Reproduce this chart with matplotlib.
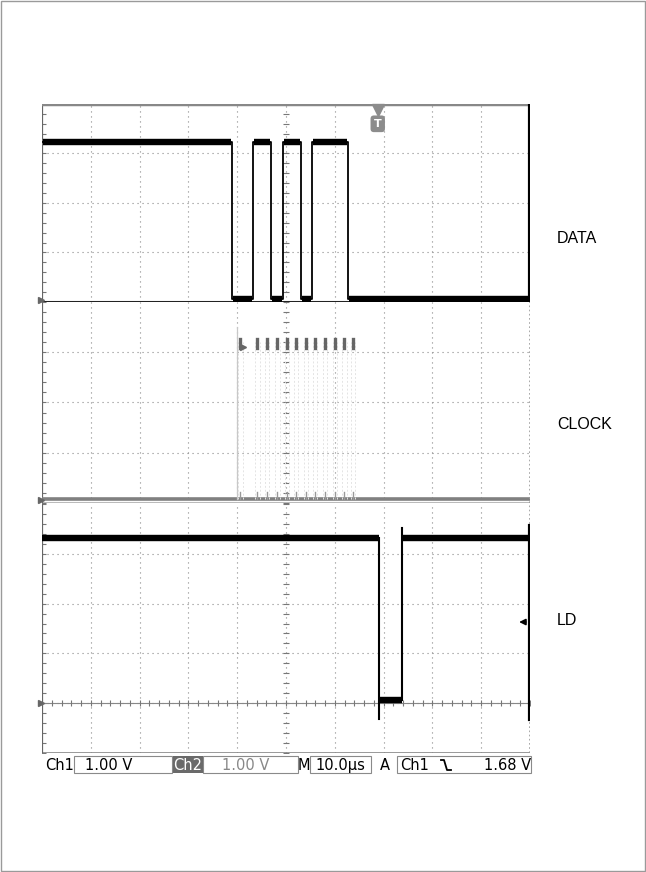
import matplotlib.pyplot as plt
from matplotlib.patches import Rectangle

# oscilloscope capture, values in divisions
x_div = 10

data_edges = [3.89, 4.32, 4.69, 4.94, 5.31, 5.53, 6.27]
data_hi, data_lo = 3.23, 0.07

clock_pulses = [4.06, 4.41, 4.61, 4.82, 5.02, 5.20, 5.41, 5.59, 5.80, 6.00, 6.19, 6.37]
clock_hi, clock_lo = 3.2, 0.07

ld_edges = [6.91, 7.38]
ld_hi, ld_lo = 4.32, 1.06
ld_undershoot = 0.68
ld_overshoot = 4.52

labels = ['DATA', 'CLOCK', 'LD']
status = ['Ch1', '1.00 V', 'Ch2', '1.00 V', 'M', '10.0µs', 'A', 'Ch1', '1.68 V']

W, H = 646, 872
fig = plt.figure(figsize=(W / 100, H / 100), dpi=100)

# panels: (top px, bottom px, n divisions)
panels = [(104, 302, 4), (302, 503, 4), (504, 753, 5)]
axes = []
for top, bot, nd in panels:
    ax = fig.add_axes([42 / W, 1 - bot / H, 488 / W, (bot - top) / H])
    ax.set_xlim(0, x_div)
    ax.set_ylim(0, nd)
    ax.set_xticks([])
    ax.set_yticks([])
    for s in ax.spines.values():
        s.set_visible(False)
    # graticule
    for i in range(1, x_div):
        ax.axvline(i, color='#8a8a8a', lw=0.8, ls=(0, (1, 3.5)), zorder=1)
    for j in range(1, nd):
        ax.axhline(j, color='#8a8a8a', lw=0.8, ls=(0, (1, 3.5)), zorder=1)
    # center axis ticks
    ticks = [k * 0.2 for k in range(nd * 5 + 1)]
    ax.plot([5] * len(ticks), ticks, ls='none', marker='_', ms=4, color='#777', mew=0.8, zorder=1)
    ax.plot([0.03] * len(ticks), ticks, ls='none', marker='_', ms=4, color='#777', mew=0.8, zorder=1)
    ax.axvline(0, color='#666', lw=1.6, zorder=2)
    axes.append(ax)

ax1, ax2, ax3 = axes

# DATA
t = [0] + data_edges + [x_div]
lv = [data_hi if k % 2 == 0 else data_lo for k in range(len(t))]
ax1.step(t, lv, where='post', color='k', lw=1.3, zorder=3)
for k in range(len(t) - 1):
    ax1.plot([t[k] + 0.02, t[k + 1] - 0.02], [lv[k], lv[k]], color='k', lw=4.6,
             solid_capstyle='butt', zorder=3)
ax1.axhline(0.0, color='#222', lw=2.2, zorder=2)
ax1.axhline(4, color='#888', lw=2.5, zorder=2)
ax1.axvline(x_div, color='k', lw=3, zorder=3)
# trigger marker
ax1.plot([6.88], [3.87], marker='v', ms=8, color='#8c8c8c', zorder=4, clip_on=False)
ax1.text(6.88, 3.6, 'T', ha='center', va='center', color='white', fontsize=8, fontweight='bold',
         bbox=dict(boxstyle='round,pad=0.3', fc='#8c8c8c', ec='none'), zorder=4)
ax1.plot([-0.03], [0.05], marker='>', ms=4, color='#666', clip_on=False)

# CLOCK
ax2.plot([0, x_div], [clock_lo, clock_lo], color='#808080', lw=2.6, zorder=2)
for p in clock_pulses:
    ax2.vlines([p - 0.04, p + 0.05], clock_lo, clock_hi, color='#e4e4e4', lw=0.7,
               linestyles=(0, (2, 2)), zorder=2)
    ax2.plot([p, p], [clock_hi - 0.12, clock_hi + 0.06], color='#666', lw=2.4, zorder=3)
    ax2.plot([p, p], [clock_lo, clock_lo + 0.15], color='#999', lw=1.0, zorder=3)
ax2.plot([clock_pulses[0] - 0.06] * 2, [clock_lo, clock_hi + 0.3], color='#c8c8c8', lw=0.9, zorder=2)
ax2.plot([clock_pulses[0] + 0.05], [clock_hi - 0.1], marker='>', ms=4, color='#666', zorder=3)
ax2.axhline(0.0, color='#bbb', lw=1.5, zorder=1)
ax2.axvline(x_div, color='#999', lw=1.2, ls=(0, (1, 1.5)), zorder=2)
ax2.plot([-0.03], [0.05], marker='>', ms=4, color='#666', clip_on=False)

# LD
ax3.axhline(1, color='#888', lw=0.8, zorder=1)
ticks = [k * 0.2 for k in range(x_div * 5 + 1)]
ax3.plot(ticks, [1] * len(ticks), ls='none', marker='|', ms=4, color='#777', mew=0.8, zorder=1)
ax3.plot([ld_edges[0], ld_edges[0]], [ld_hi, ld_undershoot], color='k', lw=1.5, zorder=3)
ax3.plot([ld_edges[1], ld_edges[1]], [ld_lo, ld_overshoot], color='k', lw=1.5, zorder=3)
ax3.plot([0, ld_edges[0]], [ld_hi, ld_hi], color='k', lw=4.6, solid_capstyle='butt', zorder=3)
ax3.plot([ld_edges[0], ld_edges[1]], [ld_lo, ld_lo], color='k', lw=4.6, solid_capstyle='butt', zorder=3)
ax3.plot([ld_edges[1], x_div], [ld_hi, ld_hi], color='k', lw=4.6, solid_capstyle='butt', zorder=3)
ax3.axvline(x_div, color='#999', lw=1.2, ls=(0, (1, 1.5)), zorder=2)
ax3.plot([x_div, x_div], [0.68, 4.55], color='k', lw=3, zorder=3)
ax3.annotate('', xy=(9.72, 2.63), xytext=(9.97, 2.63),
             arrowprops=dict(arrowstyle='-|>', color='k', lw=1.2, mutation_scale=9))
ax3.plot([-0.03], [1], marker='>', ms=4, color='#666', clip_on=False)
ax3.axhline(0.0, color='#888', lw=1.2, zorder=1)

# overlay in pixel coords
ov = fig.add_axes([0, 0, 1, 1])
ov.set_xlim(0, W)
ov.set_ylim(H, 0)
ov.axis('off')
ov.patch.set_visible(False)
ov.add_patch(Rectangle((1, 1), W - 2, H - 2, fill=False, ec='#9a9a9a', lw=1))

for lab, y in zip(labels, [238, 424, 620]):
    ov.text(557, y, lab, ha='left', va='center', fontsize=11.5, family='Liberation Sans')

# status bar
sb_y = 765
for x0, x1 in [(74, 172), (203, 298), (310, 371), (397, 531)]:
    ov.add_patch(Rectangle((x0, 756), x1 - x0, 17, fill=False, ec='#8a8a8a', lw=0.8))
ov.add_patch(Rectangle((173, 756), 30, 17, fc='#6a6a6a', ec='none'))
fs = 10.5
ov.text(45, sb_y, status[0], ha='left', va='center', fontsize=fs)
ov.text(85, sb_y, status[1], ha='left', va='center', fontsize=fs)
ov.text(188, sb_y, status[2], ha='center', va='center', fontsize=fs, color='white')
ov.text(222, sb_y, status[3], ha='left', va='center', fontsize=fs, color='#888')
ov.text(304, sb_y, status[4], ha='center', va='center', fontsize=fs)
ov.text(340, sb_y, status[5], ha='center', va='center', fontsize=fs)
ov.text(385, sb_y, status[6], ha='center', va='center', fontsize=fs)
ov.text(400, sb_y, status[7], ha='left', va='center', fontsize=fs)
ov.plot([441, 444, 447, 451], [760, 760, 770, 770], color='k', lw=1.3)
ov.text(531, sb_y, status[8], ha='right', va='center', fontsize=fs)

fig.savefig('out.png', dpi=100)
